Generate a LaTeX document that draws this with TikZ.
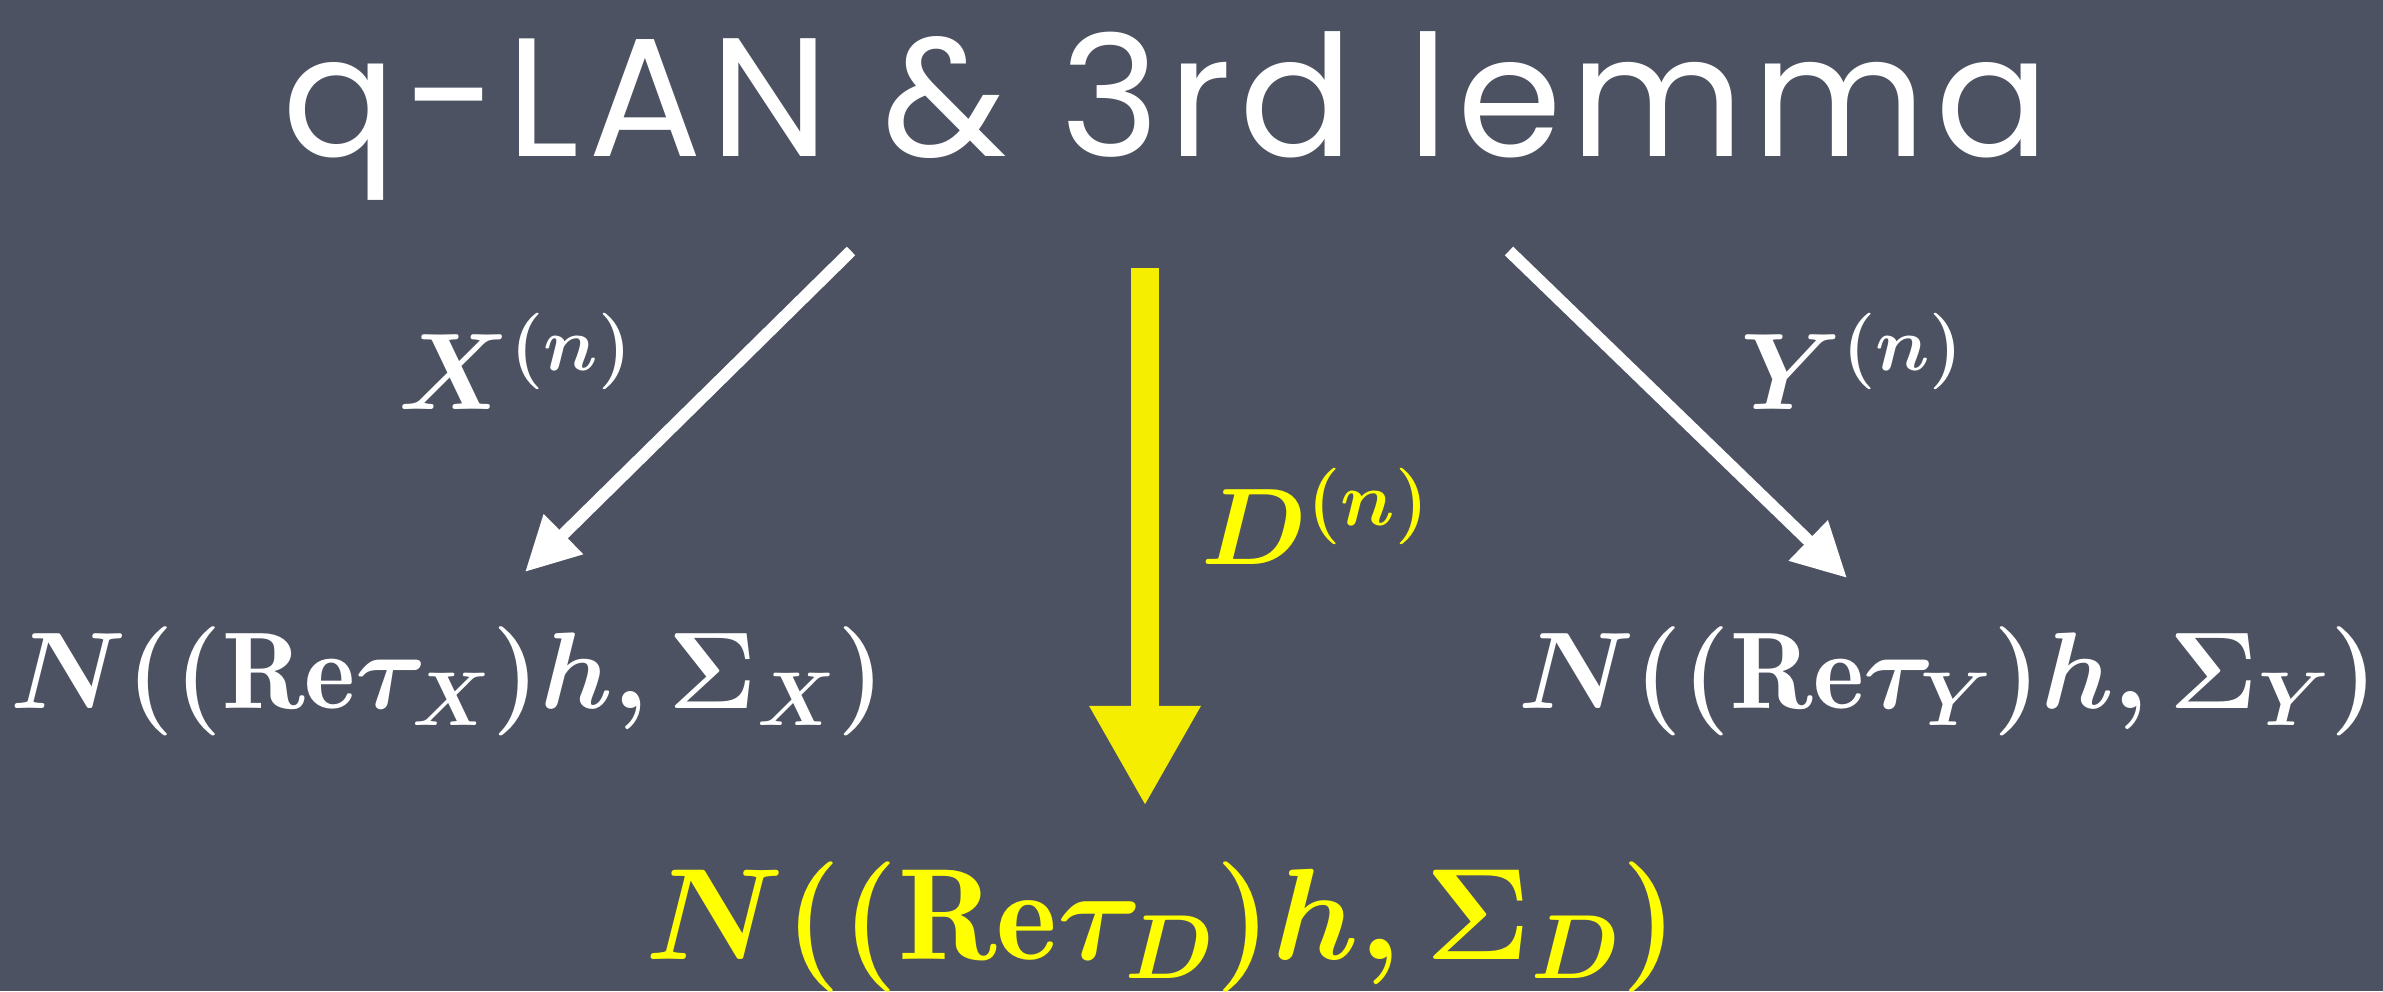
\RequirePackage{fix-cm}
\documentclass[tikz,border=0pt]{standalone}
\usepackage{amsmath, amssymb}
\usepackage{fontspec}
\newfontfamily\chalkfont[LetterSpace=5]{Poppins}
\usetikzlibrary{arrows.meta}
\definecolor{boardGray}{HTML}{4C5261}
\definecolor{chalkWhite}{HTML}{FFFFFF}
\definecolor{chalkYellow}{HTML}{F5EE00}
\definecolor{textYellow}{HTML}{FFFF00}

\begin{document}
\begin{tikzpicture}[x=0.01cm, y=0.01cm,
    mathlbl/.style={anchor=base west, inner sep=0pt, text=chalkWhite,
      font=\fontsize{31}{37}\selectfont\boldmath},
    whitearrow/.style={draw=chalkWhite, line width=1.2mm,
      -{Triangle[length=5.4mm, width=5.3mm]}}]
  % Pizarra
  \fill[boardGray] (0,0) rectangle (2383,991);
  \useasboundingbox (0,0) rectangle (2383,991);
  % Titulo
  \node[anchor=base west, inner sep=0pt, text=chalkWhite,
    font=\chalkfont\fontsize{48}{56}\selectfont] (title) at (282,834) {q-LAN \& 3rd lemma};
  % Distribuciones
  \node[mathlbl] (distX) at (10,282) {$N((\mathrm{Re}\tau_X)h,\Sigma_X)$};
  \node[mathlbl] (distY) at (1518,282) {$N((\mathrm{Re}\tau_Y)h,\Sigma_Y)$};
  \node[mathlbl, text=textYellow, font=\fontsize{37}{44}\selectfont\boldmath]
    (distD) at (645,32) {$N((\mathrm{Re}\tau_D)h,\Sigma_D)$};
  % Flechas blancas
  \foreach \nm/\xa/\ya/\xb/\yb in {X/851/740/525/419, Y/1509/740/1847/413} {
    \coordinate (start\nm) at (\xa,\ya);
    \coordinate (end\nm) at (\xb,\yb);
    \draw[whitearrow] (start\nm) -- (end\nm);
  }
  \node[mathlbl] (lblX) at (398,581) {$X^{(n)}$};
  \node[mathlbl] (lblY) at (1740,581) {$Y^{(n)}$};
  % Flecha amarilla
  \coordinate (startD) at (1145,723);
  \coordinate (endD) at (1145,185);
  \draw[draw=chalkYellow, line width=2.8mm,
    -{Triangle[length=10mm, width=10.4mm]}] (startD) -- (endD);
  \node[mathlbl, text=textYellow] (lblD) at (1201,426) {$D^{(n)}$};
\end{tikzpicture}
\end{document}
